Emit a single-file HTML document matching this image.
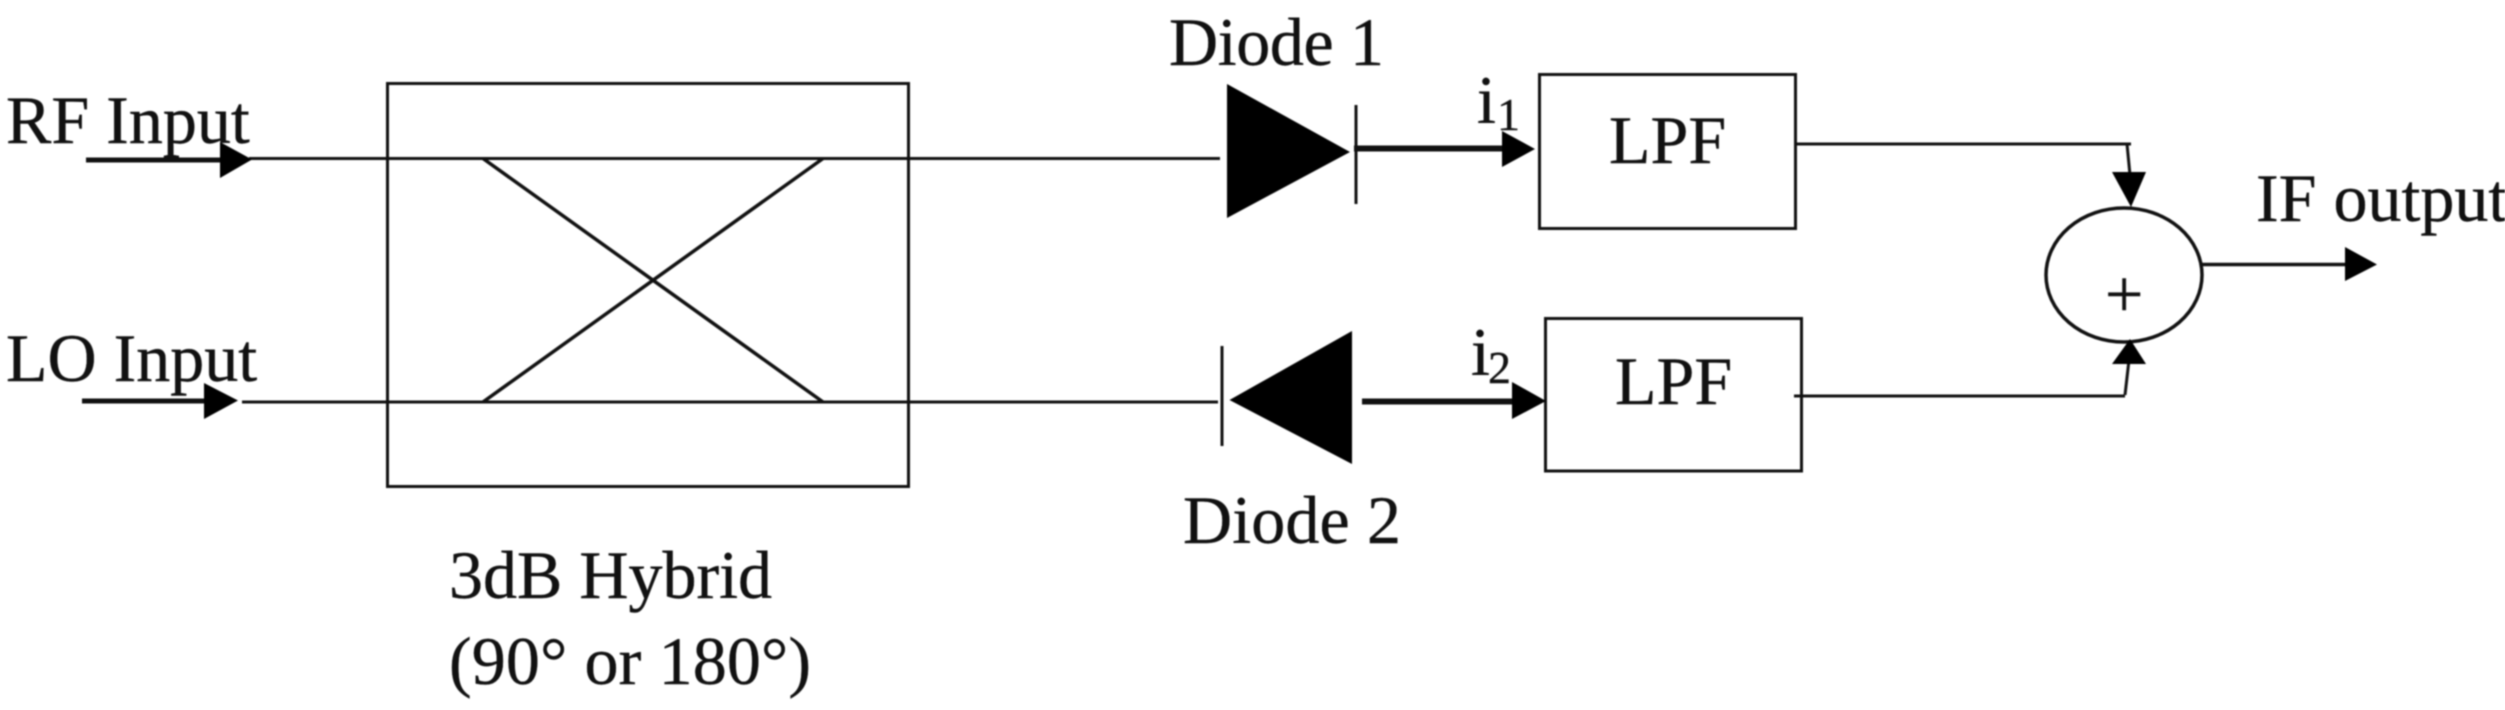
<!DOCTYPE html>
<html>
<head>
<meta charset="utf-8">
<style>
html,body{margin:0;padding:0;background:#fff;width:2505px;height:710px;overflow:hidden}
svg{display:block;filter:blur(0.8px)}
text{font-family:"Liberation Serif",serif;font-size:68px;fill:#111;stroke:#111;stroke-width:0.4px}
</style>
</head>
<body>
<svg width="2505" height="710" viewBox="0 0 2505 710" xmlns="http://www.w3.org/2000/svg">
<rect width="2505" height="710" fill="#fff"/>
<g fill="none" stroke="#111" stroke-width="3">
  <rect x="387.5" y="83.5" width="521" height="403"/>
  <line x1="249" y1="158.5" x2="1220" y2="158.5"/>
  <line x1="242" y1="402" x2="1218" y2="402"/>
  <line x1="483" y1="158.5" x2="823" y2="402" stroke-width="3.500"/>
  <line x1="823" y1="158.5" x2="483" y2="402" stroke-width="3.500"/>
  <line x1="1356" y1="105" x2="1356" y2="204"/>
  <line x1="1222" y1="346" x2="1222" y2="446"/>
  <rect x="1539.5" y="74.5" width="256" height="154"/>
  <rect x="1545.5" y="318.5" width="256" height="152.500"/>
  <line x1="1796" y1="144" x2="2131" y2="144"/>
  <line x1="2127" y1="144" x2="2130" y2="175"/>
  <line x1="1794" y1="396" x2="2125" y2="396"/>
  <line x1="2125" y1="395" x2="2129" y2="360"/>
  <ellipse cx="2124" cy="275" rx="78" ry="67" stroke-width="3.500"/>
  <line x1="2202" y1="264.500" x2="2347" y2="264.500" stroke-width="3.500"/>
  <line x1="86" y1="160" x2="222" y2="160" stroke-width="5"/>
  <line x1="82" y1="401" x2="206" y2="401" stroke-width="5"/>
  <line x1="1354" y1="148.500" x2="1504" y2="148.500" stroke-width="6"/>
  <line x1="1362" y1="401.500" x2="1513" y2="401.500" stroke-width="6"/>
</g>
<g fill="#000" stroke="none">
  <polygon points="220,142 252,159.500 220,178"/>
  <polygon points="204,383 238,400.500 204,419"/>
  <polygon points="1227,84 1227,218 1350,152"/>
  <polygon points="1229.500,400 1352,331 1352,464"/>
  <polygon points="1502,131 1535,149 1502,167"/>
  <polygon points="1512,382 1546,401 1512,419"/>
  <polygon points="2112,172 2146,172 2131,207"/>
  <polygon points="2112,364 2146,364 2130,339"/>
  <polygon points="2345,247 2377,264.500 2345,281"/>
</g>
<text x="6" y="143">RF Input</text>
<text x="6" y="381">LO Input</text>
<text x="449" y="598">3dB Hybrid</text>
<text x="449" y="684" textLength="362">(90° or 180°)</text>
<text x="1169" y="65" textLength="215">Diode 1</text>
<text x="1183" y="543" textLength="218">Diode 2</text>
<text x="1477" y="123">i</text>
<text x="1497" y="130" style="font-size:46px">1</text>
<text x="1471" y="375">i</text>
<text x="1488" y="383" style="font-size:46px">2</text>
<text x="1609" y="163">LPF</text>
<text x="1615" y="404">LPF</text>
<text x="2105" y="317">+</text>
<text x="2256" y="221">IF output</text>
</svg>
</body>
</html>
